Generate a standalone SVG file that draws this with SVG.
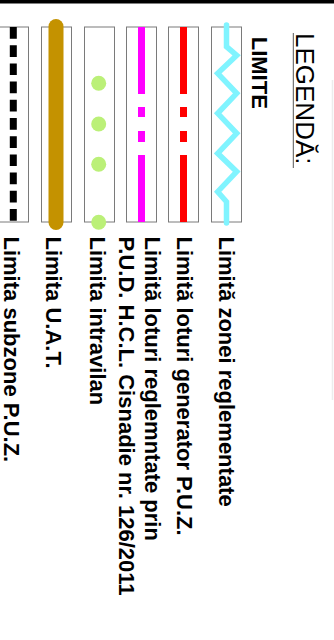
<svg xmlns="http://www.w3.org/2000/svg" width="334" height="640" viewBox="0 0 334 640">
<style>
.box{fill:#fff;stroke:#7a7a7a;stroke-width:1}
.lbl{font-family:"Liberation Sans",Arial,sans-serif;font-weight:bold;font-size:22px;fill:#000}
.title{font-family:"Liberation Sans",Arial,sans-serif;font-size:26px;fill:#000}
</style>
<rect x="0" y="0" width="334" height="640" fill="#fff"/>
<rect x="0" y="0" width="334" height="3.5" fill="#000"/>
<line x1="332.5" y1="80" x2="332.5" y2="400" stroke="#ececec" stroke-width="1.5"/>
<g id="legend-title">
<text class="title" transform="translate(296,33) rotate(90)">LEGENDĂ:</text>
<line x1="293.3" y1="33" x2="293.3" y2="168" stroke="#555" stroke-width="1"/>
</g>
<g id="section-limite">
<text class="lbl" transform="translate(252,36.7) rotate(90)">LIMITE</text>
</g>
<g id="item-zona">
<rect class="box" x="211.5" y="27" width="30" height="195"/>
<polyline points="226.5,25 226.5,46.7 236.7,55.3 217.7,73.3 236.7,93.3 217.7,113.3 236.7,133.3 217.7,153.3 236.7,171.7 217.7,191.7 226.5,201.7 226.5,223" fill="none" stroke="#80f4ff" stroke-width="5.5" stroke-linecap="round" stroke-linejoin="miter"/>
<text class="lbl" transform="translate(218.5,236.5) rotate(90)">Limită zonei reglementate</text>
</g>
<g id="item-generator">
<rect class="box" x="168.5" y="27" width="30" height="195"/>
<g fill="#ff0000">
<rect x="180" y="27" width="7" height="67"/>
<rect x="180" y="107" width="7" height="10"/>
<rect x="180" y="131" width="7" height="11"/>
<rect x="180" y="155" width="7" height="67"/>
</g>
<text class="lbl" transform="translate(176.5,236.5) rotate(90)">Limită loturi generator P.U.Z.</text>
</g>
<g id="item-pud">
<rect class="box" x="126.5" y="27" width="30" height="195"/>
<g fill="#ff00ff">
<rect x="138" y="27" width="7" height="67"/>
<rect x="138" y="107" width="7" height="10"/>
<rect x="138" y="131" width="7" height="11"/>
<rect x="138" y="155" width="7" height="67"/>
</g>
<text class="lbl" transform="translate(145,236.5) rotate(90)">Limită loturi reglemntate prin</text>
<text class="lbl" transform="translate(118.5,236.5) rotate(90)">P.U.D. H.C.L. Cisnadie nr. 126/2011</text>
</g>
<g id="item-intravilan">
<rect class="box" x="84.5" y="27" width="30" height="195"/>
<g fill="#bbf078">
<circle cx="98.7" cy="83.3" r="7.5"/>
<circle cx="98.7" cy="124" r="7.5"/>
<circle cx="98.7" cy="164.3" r="7.5"/>
<circle cx="98.7" cy="222.3" r="7.5"/>
</g>
<text class="lbl" transform="translate(89.5,236.5) rotate(90)">Limita intravilan</text>
</g>
<g id="item-uat">
<rect class="box" x="41.5" y="27" width="30" height="195"/>
<line x1="56" y1="26.5" x2="56" y2="222.5" stroke="#c49200" stroke-width="15" stroke-linecap="round"/>
<text class="lbl" transform="translate(46,236.5) rotate(90)">Limita U.A.T.</text>
</g>
<g id="item-subzone">
<rect class="box" x="-1.5" y="27" width="30" height="195"/>
<line x1="13.3" y1="27" x2="13.3" y2="222" stroke="#000" stroke-width="7" stroke-dasharray="11.7 6.5"/>
<text class="lbl" transform="translate(4,236.5) rotate(90)">Limita subzone P.U.Z.</text>
</g>
</svg>
